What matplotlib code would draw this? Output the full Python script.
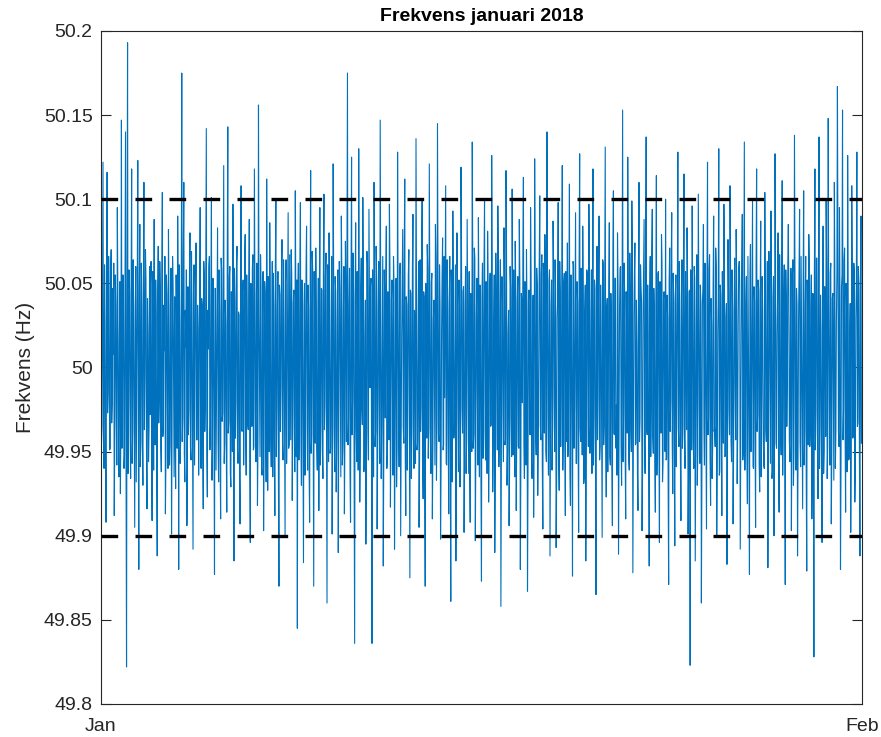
"""
Grid frequency, January 2018 (half-hourly deviations from 50 Hz, read off the reference).
"""

import numpy as np
import pandas as pd
import matplotlib
matplotlib.use("Agg")
import matplotlib.pyplot as plt

# deviation from nominal in mHz at each full hour, one row per day
dev_hour_mhz = [
    12, -35, 122, -60, 28, -92, 116, -15, 40, -48, 70, -22, 8, -88, 55, -30, 95, -41, 18, -75, 147, -10, 33, -52,
    140, -178, 193, -20, 45, -66, 118, -38, 25, -95, 60, -12, 123, -120, 85, -44, 36, -70, 110, -5, 52, -84, 20, -37,
    -28, 63, -91, 15, 88, -46, 30, -112, 72, -18, 45, -62, 104, -35, 10, -87, 55, -24, 82, -58, 38, -99, 66, -14,
    42, -72, 18, 90, -120, 27, -40, 175, -30, 110, -68, 12, -94, 48, -25, 80, -55, 33, -108, 61, -9, 74, -43, 22,
    -16, 95, -60, 37, -84, 54, -21, 142, -77, 11, 66, -35, 101, -50, 29, -123, 47, -13, 83, -68, 34, -90, 58, -27,
    120, -45, 25, -86, 143, -32, 60, -71, 14, 97, -115, 40, -20, 72, -57, 31, -93, 108, -38, 52, -12, 79, -64, 23,
    -37, 88, -104, 18, 59, -49, 118, -26, 44, -82, 156, -15, 67, -60, 30, -97, 51, -34, 112, -73, 20, 86, -42, 10,
    -65, 36, -88, 100, -24, 57, -130, 43, -11, 76, -55, 28, -100, 64, -19, 92, -46, 15, 70, -79, 38, -28, 105, -53,
    -155, 62, -30, 98, -70, 24, -116, 50, -17, 84, -61, 35, -92, 117, -40, 58, -130, 20, 71, -48, 12, -85, 95, -33,
    46, -66, 103, -22, 68, -140, 29, 80, -51, 16, -99, 121, -36, 54, -74, 27, -110, 63, -14, 90, -58, 33, -87, 75,
    -44, 175, -31, 59, -92, 125, -19, 41, -164, 86, -56, 22, 130, -80, 48, -25, 101, -62, 17, -105, 69, -38, 94, -12,
    53, -164, 28, 110, -47, 72, -96, 35, -20, 147, -66, 13, -118, 58, -30, 84, -52, 24, 97, -83, 40, -15, 66, -108,
    31, -71, 128, -27, 55, -100, 19, 82, -45, 112, -88, 37, -14, 70, -125, 44, -33, 91, -60, 26, 136, -49, 8, -95,
    64, -23, 99, -78, 42, -130, 17, 73, -54, 121, -36, 50, -90, 28, -11, 85, -67, 145, -40, 61, -102, 21, 77, -46,
    -18, 108, -58, 34, -87, 66, -139, 25, 93, -42, 14, -115, 80, -29, 52, -71, 119, -24, 45, -98, 37, -63, 88, -10,
    57, -92, 22, 134, -48, 71, -103, 30, -16, 89, -65, 43, -127, 62, -21, 100, -55, 18, 81, -80, 48, -35, 126, -74,
    26, -110, 68, -13, 96, -59, 35, -142, 54, -27, 83, -46, 117, -70, 20, -94, 60, -31, 106, -52, 9, 75, -85, 39,
    -47, 88, -120, 44, -21, 113, -66, 28, 70, -133, 40, -17, 95, -56, 32, -89, 124, -38, 59, -76, 15, 102, -43, 67,
    -96, 23, 79, -50, 140, -28, 51, -112, 36, -61, 87, -19, 64, -107, 30, 98, -73, 45, -14, 120, -39, 56, -88, 19,
    74, -36, 109, -82, 25, -124, 61, -23, 92, -57, 38, -98, 127, -44, 16, 84, -69, 33, -115, 58, -11, 97, -51, 29,
    -63, 118, -29, 47, -135, 72, -18, 90, -47, 24, -101, 62, -34, 131, -77, 41, -12, 86, -58, 27, -94, 105, -40, 53,
    -22, 80, -111, 35, 60, -70, 153, -26, 44, -90, 21, 125, -55, 68, -37, 99, -122, 30, 74, -45, 12, -85, 110, -31,
    48, -97, 26, 88, -63, 137, -40, 19, -118, 66, -24, 94, -51, 31, -86, 114, -33, 57, -104, 22, 79, -68, 41, -15,
    100, -54, 29, -129, 71, -20, 92, -75, 38, -106, 55, -13, 128, -47, 23, -91, 64, -35, 115, -60, 18, 83, -99, 45,
    -177, 34, 96, -41, 60, -115, 27, -70, 103, -22, 49, -140, 37, 85, -58, 14, -96, 122, -30, 67, -82, 25, -48, 90,
    -36, 71, -101, 20, 130, -62, 42, -88, 17, 97, -53, 30, -117, 76, -25, 108, -44, 58, -93, 35, -12, 82, -69, 26,
    63, -108, 22, 91, -49, 134, -31, 54, -81, 16, -123, 73, -20, 99, -60, 39, -95, 118, -28, 46, -74, 87, -16, 32,
    -58, 104, -37, 25, -119, 69, -14, 93, -66, 41, -100, 127, -45, 20, 80, -86, 33, -52, 111, -24, 61, -129, 38, -10,
    85, -43, 19, -97, 55, -70, 138, -32, 47, -112, 28, 94, -59, 15, -84, 105, -38, 66, -121, 24, 79, -47, 35, -90,
    44, -172, 118, -26, 65, -78, 137, -35, 22, -104, 84, -50, 30, 99, -66, 148, -19, 56, -93, 41, -15, 110, -60, 27,
    167, -38, 95, -120, 48, 153, -24, 71, -86, 33, 126, -55, 17, -98, 108, -42, 62, -80, 29, 128, -33, 50, -112, 90,
]
# deviation from nominal in mHz at each half hour (hh:30), one row per day
dev_half_mhz = [
    -45, 52, -38, 61, -55, 40, -27, 66, -49, 58, -33, 47, 62, -41, 36, -58, 44, -65, 51, -29, -48, 55, -60, 39,
    -52, 47, -63, 58, -36, 49, -57, 64, -42, 35, -68, 51, -30, 46, -59, 62, -44, 53, -37, 70, -49, 41, -56, 60,
    50, -44, 57, -61, -38, 52, -67, 45, -33, 63, -48, 56, -41, 37, 66, -54, 43, -60, 35, -46, 59, -39, 48, -65,
    -36, 55, -48, 42, 61, -57, 39, -44, 66, -51, 34, 58, -62, -40, 53, -47, 69, -35, 45, -58, 50, -43, 37, -64,
    48, -59, 41, -45, 63, -38, 56, -52, 34, 60, -49, 44, -67, 53, -36, 47, -61, 39, -43, 58, -55, 65, -32, 51,
    -57, 40, -46, 68, -39, 54, -63, 45, -50, 37, 59, -42, 61, -48, 33, -66, 52, -37, 46, -58, 64, -41, 55, -34,
    43, -61, 50, -35, 67, -47, 38, -56, 62, -44, 31, -53, 48, -64, 57, -39, 45, -68, 36, 54, -50, 41, -59, 63,
    56, -42, 60, -53, 35, -66, 49, -38, 58, -45, 64, -34, 51, -57, 40, -48, 67, -43, 55, -36, 46, -62, 39, 52,
    41, -55, 63, -40, 52, -47, 36, -64, 58, -33, 49, -60, 44, -51, 69, -38, 57, -45, 34, -61, 53, 42, -58, 47,
    -50, 64, -37, 55, -43, 61, -56, 39, -48, 66, -35, 52, -62, 45, -41, 58, -33, 47, -65, 54, -46, 60, -39, 43,
    59, -46, 37, -63, 51, -40, 68, -52, 44, -36, 57, -61, 42, -49, 65, -34, 53, -58, 40, -47, 62, -55, 35, 48,
    -42, 58, -65, 47, -38, 54, -49, 63, -57, 41, -34, 66, -51, 39, 56, -60, 45, -43, 61, -37, 52, -64, 48, -46,
    53, -48, 36, -59, 62, -44, 50, -35, 67, -53, 42, -61, 55, -39, 46, -66, 58, -40, 34, -57, 49, -45, 63, -52,
    -38, 61, -54, 45, -67, 50, -42, 59, -36, 48, -63, 56, -47, 40, -58, 64, -33, 52, -44, 37, -60, 55, -49, 66,
    47, -57, 64, -41, 39, -52, 58, -68, 43, -35, 61, -46, 54, -62, 37, -50, 66, -39, 48, -55, 60, -43, 35, -63,
    -61, 44, -50, 57, -39, 65, -46, 53, -58, 36, 49, -67, 42, -54, 60, -37, 51, -63, 45, -41, 56, -34, 62, -48,
    55, -63, 40, -49, 59, -36, 64, -45, 38, -56, 52, -43, 67, -50, 34, -60, 47, -53, 41, 58, -65, 48, -37, 54,
    -48, 53, -60, 39, 65, -44, 51, -58, 35, -62, 46, -40, 57, -66, 43, -37, 61, -52, 49, -45, 64, -34, 55, -59,
    62, -39, 47, -56, 41, -64, 58, -43, 52, -35, 60, -50, 45, -68, 39, -54, 63, -47, 36, -61, 51, -42, 57, -44,
    -53, 46, -62, 55, -40, 63, -48, 37, -57, 51, -44, 66, -36, 59, -52, 42, -65, 49, -38, 54, -47, 61, -35, 58,
    45, -58, 52, -66, 38, -43, 60, -55, 49, -37, 64, -46, 57, -41, 35, -62, 50, -53, 44, -60, 67, -39, 53, -48,
    -64, 50, -41, 59, -47, 36, -56, 62, -52, 45, -39, 58, -61, 43, -50, 66, -37, 55, -46, 40, -63, 52, -44, 61,
    39, -62, 54, -46, 57, -35, 49, -60, 43, -53, 68, -41, 47, -58, 36, -64, 56, -42, 51, -39, 62, -57, 45, -50,
    -55, 43, -67, 52, -38, 61, -45, 56, -50, 41, -59, 47, -36, 63, -54, 40, -48, 65, -42, 57, -37, 50, -61, 46,
    58, -49, 36, -60, 53, -42, 67, -51, 44, -57, 39, -63, 48, -35, 62, -46, 55, -40, 59, -54, 41, -66, 50, -38,
    -47, 60, -53, 41, -64, 49, -37, 57, -45, 63, -52, 38, -58, 46, -40, 61, -56, 34, -49, 65, -43, 54, -36, 59,
    50, -37, 62, -55, 45, -61, 39, -47, 66, -43, 56, -50, 35, -59, 48, -44, 63, -38, 52, -57, 40, -65, 54, -42,
    -60, 48, -44, 63, -51, 38, -57, 46, -62, 54, -36, 59, -48, 41, -55, 67, -39, 50, -64, 43, -47, 58, -35, 61,
    42, -56, 59, -38, 64, -50, 45, -61, 37, -53, 57, -44, 66, -40, 49, -58, 35, -62, 52, -46, 60, -36, 55, -51,
    -44, 57, -49, 65, -39, 52, -60, 43, -55, 36, -63, 48, -41, 59, -46, 37, -58, 62, -50, 44, -67, 53, -38, 56,
    61, -47, 40, -58, 55, -43, 64, -36, 50, -62, 45, -54, 38, -49, 66, -41, 57, -59, 47, -35, 60, -52, 43, -45,
]
nominal_hz = 50.0
limits_hz = [49.9, 50.1]
yticks = [49.8, 49.85, 49.9, 49.95, 50.0, 50.05, 50.1, 50.15, 50.2]
ytick_labels = ["49.8", "49.85", "49.9", "49.95", "50", "50.05", "50.1", "50.15", "50.2"]
xtick_dates = ["2018-01-01", "2018-02-01"]
xtick_labels = ["Jan", "Feb"]

plt.rcParams["font.family"] = ["Liberation Sans", "DejaVu Sans"]

# hh:00 and hh:30 samples in time order
dev = np.column_stack([dev_hour_mhz, dev_half_mhz]).ravel()
times = pd.date_range("2018-01-01", periods=len(dev), freq="30min")
freq = nominal_hz + dev / 1000.0
start, end = pd.Timestamp(xtick_dates[0]), pd.Timestamp(xtick_dates[1])

fig = plt.figure(figsize=(8.81, 7.37), dpi=100)
ax = fig.add_axes([0.1146, 0.0448, 0.8638, 0.9132])

ax.plot(times, freq, color="#0072BD", lw=0.8, zorder=2)
for lim in limits_hz:
    ax.plot([start, end], [lim, lim], color="black", lw=2.4, dashes=(5.0, 5.2), zorder=3)

ax.set_xlim(start, end)
ax.set_ylim(49.8, 50.2)
ax.set_yticks(yticks)
ax.set_yticklabels(ytick_labels)
ax.set_xticks([start, end])
ax.set_xticklabels(xtick_labels)
ax.tick_params(direction="in", length=7, width=0.8, colors="#262626", labelsize=14,
               right=True, top=False, pad=6)
ax.tick_params(axis="x", length=0, pad=10)
for sp in ax.spines.values():
    sp.set_color("#262626")
    sp.set_linewidth(0.8)

ax.set_title("Frekvens januari 2018", fontsize=14, fontweight="bold", color="black", pad=7)
ax.set_ylabel("Frekvens (Hz)", fontsize=15, color="#262626", labelpad=6)

fig.savefig("out.png", dpi=100)
